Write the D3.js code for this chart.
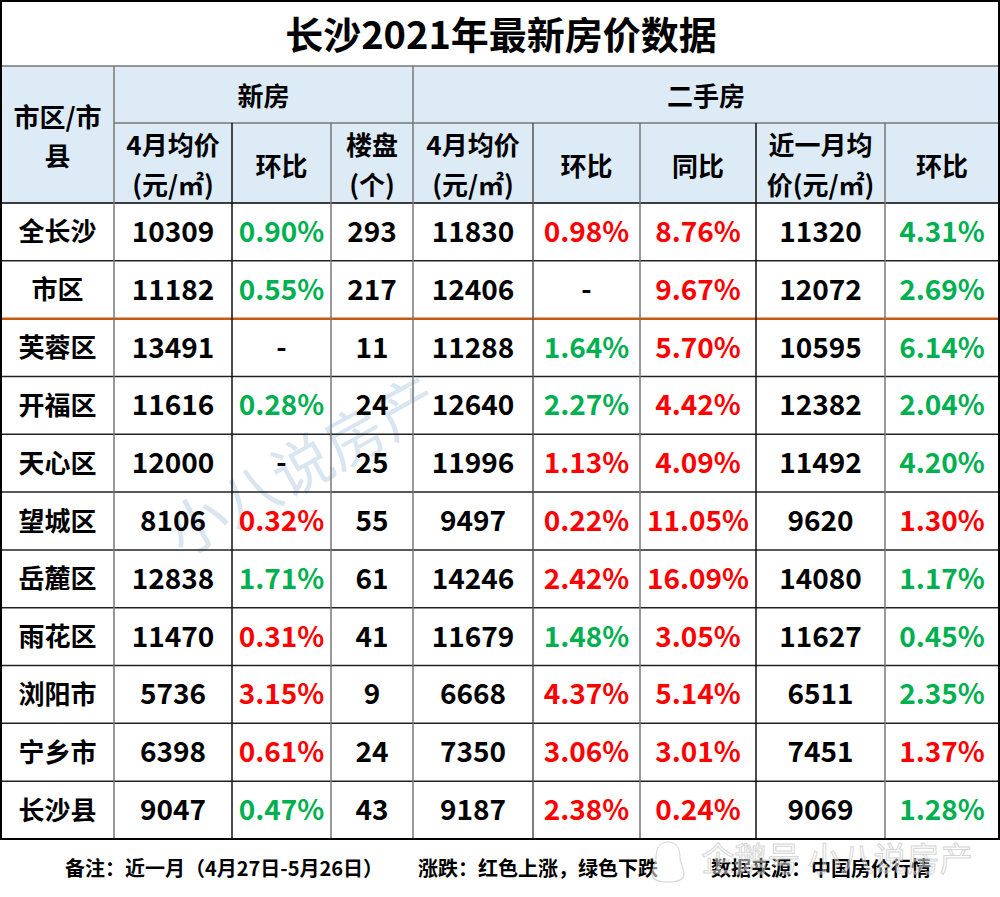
<!DOCTYPE html>
<html>
<head>
<meta charset="utf-8">
<script src="https://cdn.jsdelivr.net/npm/d3@7"></script>
<style>
  body { margin: 0; background: #fff; }
  text { font-family: "Noto Sans CJK SC", "Noto Sans", sans-serif; font-weight: 700; }
</style>
</head>
<body>
<div id="chart"></div>
<script>
// data
const regions = ['全长沙', '市区', '芙蓉区', '开福区', '天心区', '望城区', '岳麓区', '雨花区', '浏阳市', '宁乡市', '长沙县'];
const newPrice = [10309, 11182, 13491, 11616, 12000, 8106, 12838, 11470, 5736, 6398, 9047];
// change in %, negative = down (green), positive = up (red), null = '-'
const newMoM = [-0.90, -0.55, null, -0.28, null, 0.32, -1.71, 0.31, 3.15, 0.61, -0.47];
const projects = [293, 217, 11, 24, 25, 55, 61, 41, 9, 24, 43];
const usedPrice = [11830, 12406, 11288, 12640, 11996, 9497, 14246, 11679, 6668, 7350, 9187];
const usedMoM = [0.98, null, -1.64, -2.27, 1.13, 0.22, 2.42, -1.48, 4.37, 3.06, 2.38];
const usedYoY = [8.76, 9.67, 5.70, 4.42, 4.09, 11.05, 16.09, 3.05, 5.14, 3.01, 0.24];
const recentPrice = [11320, 12072, 10595, 12382, 11492, 9620, 14080, 11627, 6511, 7451, 9069];
const recentMoM = [-4.31, -2.69, -6.14, -2.04, -4.20, 1.30, -1.17, -0.45, -2.35, 1.37, -1.28];

const title = '长沙2021年最新房价数据';
const groupHeads = [{ text: '新房', from: 1, to: 4 }, { text: '二手房', from: 4, to: 9 }];
const subHeads = [['4月均价', '(元/㎡)'], ['环比'], ['楼盘', '(个)'], ['4月均价', '(元/㎡)'], ['环比'], ['同比'], ['近一月均', '价(元/㎡)'], ['环比']];
const footNotes = ['备注：近一月（4月27日-5月26日）', '涨跌：红色上涨，绿色下跌', '数据来源：中国房价行情'];

const W = 1000, H = 897;
const RED = '#FF0000', GREEN = '#00B050', HEAD = '#DDEBF7';

const svg = d3.select('#chart').append('svg').attr('width', W).attr('height', H);

const colX = d3.scaleLinear().domain(d3.range(10)).range([1, 114, 232, 331, 413, 533, 640, 756, 885, 999]);
const rowY = d3.scaleBand().domain(regions).range([203, 839]);

const titleBottom = 66, head1Bottom = 123, headBottom = 203;

// header background
svg.append('rect').attr('x', 1).attr('y', titleBottom).attr('width', 998).attr('height', headBottom - titleBottom).attr('fill', HEAD);

// title
svg.append('text').attr('x', 501).attr('y', 32).attr('text-anchor', 'middle').attr('dominant-baseline', 'central')
  .attr('font-size', 38).attr('fill', '#000').text(title);

// watermark
svg.append('text').attr('transform', 'translate(300,462) rotate(-29)').attr('text-anchor', 'middle')
  .attr('dominant-baseline', 'central').attr('font-size', 60).style('font-weight', 400)
  .attr('fill', 'rgba(160,190,220,0.4)').text('小八说房产');

// header texts
const c0 = (colX(0) + colX(1)) / 2;
svg.append('text').attr('text-anchor', 'middle').attr('dominant-baseline', 'central')
  .attr('font-size', 26).selectAll('tspan').data(['市区/市', '县']).join('tspan')
  .attr('x', c0).attr('y', (d, i) => i === 0 ? 115 : 154).text(d => d);

groupHeads.forEach(g => {
  svg.append('text').attr('x', (colX(g.from) + colX(g.to)) / 2).attr('y', (titleBottom + head1Bottom) / 2)
    .attr('text-anchor', 'middle').attr('dominant-baseline', 'central').attr('font-size', 26).text(g.text);
});

subHeads.forEach((lines, i) => {
  const cx = (colX(i + 1) + colX(i + 2)) / 2;
  const cy = (head1Bottom + headBottom) / 2;
  const t = svg.append('text').attr('text-anchor', 'middle').attr('dominant-baseline', 'central').attr('font-size', 26);
  lines.forEach((l, j) => {
    t.append('tspan').attr('x', cx).attr('y', cy + (lines.length === 1 ? 1 : (j === 0 ? -20 : 20))).text(l);
  });
});

// body cells
const fmtPct = v => v === null ? '-' : Math.abs(v).toFixed(2) + '%';
const pctColor = v => v === null ? '#000' : (v < 0 ? GREEN : RED);
const columns = [
  { vals: regions, f: d => d, c: () => '#000' },
  { vals: newPrice, f: d => d, c: () => '#000' },
  { vals: newMoM, f: fmtPct, c: pctColor },
  { vals: projects, f: d => d, c: () => '#000' },
  { vals: usedPrice, f: d => d, c: () => '#000' },
  { vals: usedMoM, f: fmtPct, c: pctColor },
  { vals: usedYoY, f: fmtPct, c: pctColor },
  { vals: recentPrice, f: d => d, c: () => '#000' },
  { vals: recentMoM, f: fmtPct, c: pctColor }
];

columns.forEach((col, ci) => {
  svg.append('g').selectAll('text').data(col.vals).join('text')
    .attr('x', (colX(ci) + colX(ci + 1)) / 2)
    .attr('y', (d, i) => rowY(regions[i]) + rowY.bandwidth() / 2 - 2)
    .attr('text-anchor', 'middle').attr('dominant-baseline', 'central')
    .attr('font-size', ci === 0 ? 26 : 28)
    .attr('fill', d => col.c(d))
    .text(d => col.f(d));
});

// grid lines
const grid = svg.append('g').attr('fill', 'none');
// horizontal
grid.append('line').attr('x1', 1).attr('x2', 999).attr('y1', titleBottom).attr('y2', titleBottom).attr('stroke', '#777').attr('stroke-width', 1.5);
grid.append('line').attr('x1', colX(1)).attr('x2', 999).attr('y1', head1Bottom).attr('y2', head1Bottom).attr('stroke', '#777').attr('stroke-width', 1.5);
grid.append('line').attr('x1', 1).attr('x2', 999).attr('y1', headBottom).attr('y2', headBottom).attr('stroke', '#000').attr('stroke-width', 1.5);
grid.selectAll('.hr').data(regions.slice(1)).join('line')
  .attr('x1', 1).attr('x2', 999).attr('y1', d => rowY(d)).attr('y2', d => rowY(d))
  .attr('stroke', d => d === '芙蓉区' ? '#C55A11' : '#222').attr('stroke-width', d => d === '芙蓉区' ? 2.5 : 1.5);
grid.append('line').attr('x1', 0).attr('x2', 1000).attr('y1', rowY.range()[1]).attr('y2', rowY.range()[1]).attr('stroke', '#555').attr('stroke-width', 2);
// vertical
const vColors = ['#000', '#777', '#111', '#777', '#777', '#555', '#777', '#111', '#777', '#000'];
d3.range(1, 9).forEach(i => {
  const top = (i === 1 || i === 4) ? titleBottom : head1Bottom;
  grid.append('line').attr('x1', colX(i)).attr('x2', colX(i)).attr('y1', top).attr('y2', rowY.range()[1])
    .attr('stroke', vColors[i]).attr('stroke-width', 1.5);
});
// outer border
grid.append('rect').attr('x', 1).attr('y', 1).attr('width', 998).attr('height', rowY.range()[1] - 1)
  .attr('stroke', '#000').attr('stroke-width', 2);

// footer
const footX = [224, 538, 821];
footNotes.forEach((t, i) => {
  svg.append('text').attr('x', footX[i]).attr('y', 867).attr('text-anchor', 'middle').attr('dominant-baseline', 'central')
    .attr('font-size', 20).attr('fill', '#000').text(t);
});
// footer watermark (semi-transparent, over the source note as in the original)
const wm = svg.append('g').attr('opacity', 0.75);
wm.append('path').attr('d', 'M668,842 c-9,0 -12,8 -12,16 c0,6 -4,10 -4,16 c0,6 8,8 16,8 c8,0 16,-2 16,-8 c0,-6 -4,-10 -4,-16 c0,-8 -3,-16 -12,-16 z')
  .attr('fill', 'rgba(255,255,255,0.7)').attr('stroke', '#ccc').attr('stroke-width', 1.2);
wm.append('text').attr('x', 837).attr('y', 857).attr('text-anchor', 'middle').attr('dominant-baseline', 'central')
  .attr('font-size', 33).style('font-weight', 400).attr('fill', 'rgba(255,255,255,0.55)')
  .attr('stroke', '#c8c8c8').attr('stroke-width', 1).text('企鹅号 小八说房产');
</script>
</body>
</html>
